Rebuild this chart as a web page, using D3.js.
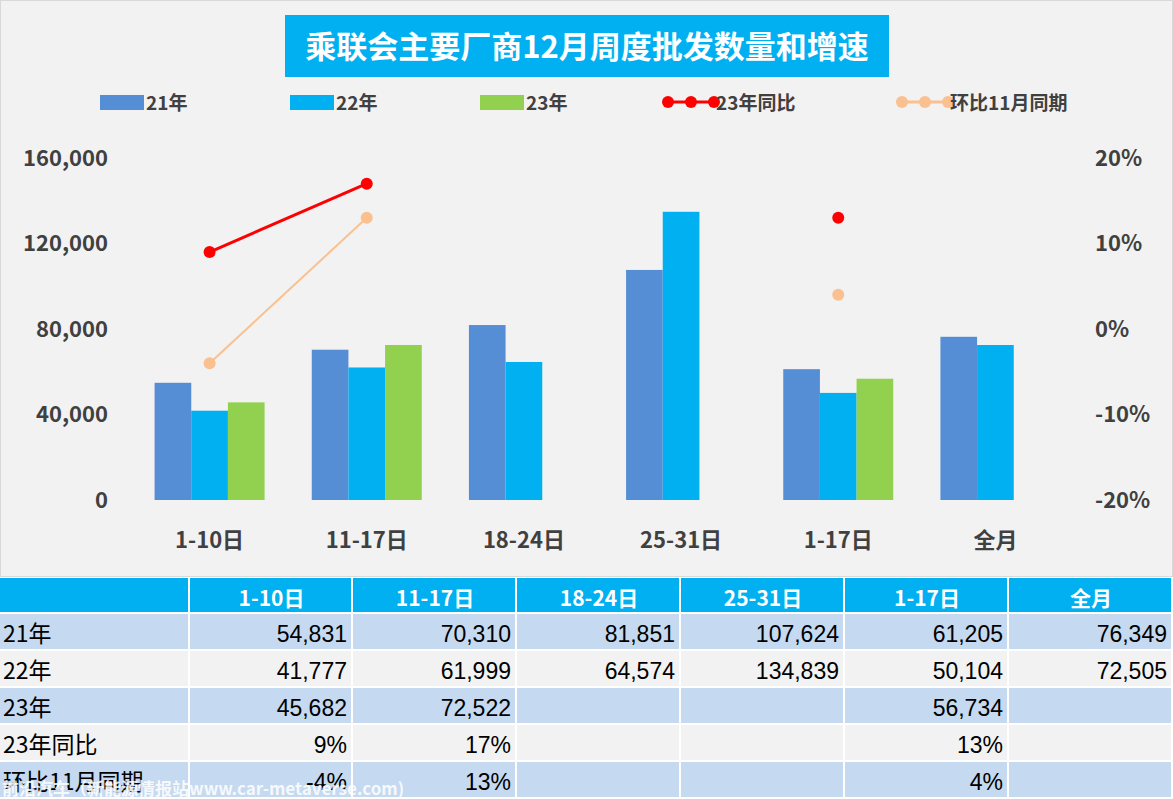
<!DOCTYPE html>
<html><head><meta charset="utf-8">
<script src="https://cdn.jsdelivr.net/npm/d3@7"></script>
<style>body{margin:0;background:#fff}svg{display:block;font-family:"Noto Sans CJK SC",Arial,sans-serif}</style>
</head><body><div id="chart"></div>
<script>
const categories = ['1-10日','11-17日','18-24日','25-31日','1-17日','全月'];
const seriesNames = ['21年','22年','23年'];
const v21 = [54831, 70310, 81851, 107624, 61205, 76349];
const v22 = [41777, 61999, 64574, 134839, 50104, 72505];
const v23 = [45682, 72522, null, null, 56734, null];
const yoy23 = [0.09, 0.17, null, null, 0.13, null];
const mom11 = [-0.04, 0.13, null, null, 0.04, null];
const leftTicks = [0, 40000, 80000, 120000, 160000];
const rightTicks = [-0.2, -0.1, 0, 0.1, 0.2];
const barColors = ['#558ed5', '#00b0f0', '#92d050'];

const W = 1173, H = 799;
const svg = d3.select('#chart').append('svg').attr('width', W).attr('height', H);
svg.append('rect').attr('x', 0.5).attr('y', 0.5).attr('width', W - 1).attr('height', 576)
  .attr('fill', '#f2f2f2').attr('stroke', '#d9d9d9');

// title
svg.append('rect').attr('x', 285).attr('y', 15).attr('width', 604).attr('height', 62).attr('fill', '#00b0f0');
svg.append('text').attr('x', 587).attr('y', 58).attr('text-anchor', 'middle')
  .attr('font-size', 31).attr('font-weight', 700).attr('fill', '#fff').text('乘联会主要厂商12月周度批发数量和增速');

// legend
const lg = svg.append('g').attr('font-size', 19).attr('font-weight', 700).attr('fill', '#404040');
[[100, 0], [290, 1], [480, 2]].forEach(([x, i]) => {
  lg.append('rect').attr('x', x).attr('y', 95).attr('width', 44).attr('height', 15).attr('fill', barColors[i]);
  lg.append('text').attr('x', x + 46).attr('y', 110).text(seriesNames[i]);
});
[[668, '#ff0000', '23年同比'], [902, '#fac090', '环比11月同期']].forEach(([x, c, t]) => {
  lg.append('line').attr('x1', x).attr('x2', x + 46).attr('y1', 102).attr('y2', 102).attr('stroke', c).attr('stroke-width', 3);
  [0, 23, 46].forEach(d => lg.append('circle').attr('cx', x + d).attr('cy', 102).attr('r', 6).attr('fill', c));
  lg.append('text').attr('x', x + 48).attr('y', 110).text(t);
});

const x = d3.scaleBand().domain(categories).range([131, 1074]);
const x1 = d3.scaleBand().domain(seriesNames).range([x.bandwidth() / 2 - 55, x.bandwidth() / 2 + 55]);
const y = d3.scaleLinear().domain([0, 160000]).range([500, 158]);
const yr = d3.scaleLinear().domain([-0.2, 0.2]).range([500, 158]);

const axL = svg.append('g').attr('transform', 'translate(108,0)')
  .call(d3.axisLeft(y).tickValues(leftTicks).tickFormat(d3.format(',')).tickSize(0).tickPadding(0));
const axR = svg.append('g').attr('transform', 'translate(1095,0)')
  .call(d3.axisRight(yr).tickValues(rightTicks).tickFormat(d => d3.format('.0%')(d).replace('−', '-')).tickSize(0).tickPadding(0));
const axB = svg.append('g').attr('transform', 'translate(0,500)')
  .call(d3.axisBottom(x).tickSize(0).tickPadding(32));
[axL, axR, axB].forEach(a => {
  a.select('.domain').remove();
  a.selectAll('text').attr('font-size', 22).attr('font-weight', 700).attr('fill', '#404040')
    .attr('font-family', '"Noto Sans CJK SC",Arial,sans-serif');
});
axL.selectAll('text').attr('text-anchor', 'end');

const series = [v21, v22, v23];
series.forEach((vals, si) => {
  svg.append('g').selectAll('rect').data(categories.map((c, i) => ({ c, v: vals[i] })).filter(d => d.v != null))
    .join('rect')
    .attr('x', d => x(d.c) + x1(seriesNames[si])).attr('width', x1.bandwidth())
    .attr('y', d => y(d.v)).attr('height', d => 500 - y(d.v)).attr('fill', barColors[si]);
});

[[mom11, '#fac090', 2], [yoy23, '#ff0000', 3]].forEach(([vals, c, sw]) => {
  const pts = categories.map((cat, i) => ({ cat, v: vals[i] }));
  const line = d3.line().defined(d => d.v != null).x(d => x(d.cat) + x.bandwidth() / 2).y(d => yr(d.v));
  svg.append('path').datum(pts).attr('d', line).attr('fill', 'none').attr('stroke', c).attr('stroke-width', sw);
  svg.append('g').selectAll('circle').data(pts.filter(d => d.v != null)).join('circle')
    .attr('cx', d => x(d.cat) + x.bandwidth() / 2).attr('cy', d => yr(d.v)).attr('r', 6).attr('fill', c);
});

// table
const fmtN = d3.format(','), fmtP = v => d3.format('.0%')(v).replace('−', '-');
const rows = [
  ['21年', v21.map(v => v == null ? '' : fmtN(v))],
  ['22年', v22.map(v => v == null ? '' : fmtN(v))],
  ['23年', v23.map(v => v == null ? '' : fmtN(v))],
  ['23年同比', yoy23.map(v => v == null ? '' : fmtP(v))],
  ['环比11月同期', mom11.map(v => v == null ? '' : fmtP(v))]
];
const colX = [0, 190, 353, 517, 681, 845, 1009, 1173];
const rowY = [578, 614, 651, 688, 725, 762, 799];
const tb = svg.append('g');
for (let r = 0; r < 6; r++) {
  for (let c = 0; c < 7; c++) {
    const fill = r === 0 ? '#00b0f0' : (r % 2 === 1 ? '#c5d9f1' : '#f2f2f2');
    tb.append('rect').attr('x', colX[c]).attr('y', rowY[r]).attr('width', colX[c + 1] - colX[c] - 2)
      .attr('height', rowY[r + 1] - rowY[r] - 2).attr('fill', fill);
    let t = '', anchor = 'end', tx = colX[c + 1] - 6;
    if (r === 0) { if (c > 0) { t = categories[c - 1]; anchor = 'middle'; tx = (colX[c] + colX[c + 1]) / 2; } }
    else if (c === 0) { t = rows[r - 1][0]; anchor = 'start'; tx = 3; }
    else t = rows[r - 1][1][c - 1];
    tb.append('text').attr('x', tx).attr('y', rowY[r] + 28).attr('text-anchor', anchor)
      .attr('font-size', r === 0 ? 21 : 23).attr('font-weight', r === 0 ? 700 : 400)
      .attr('font-family', r === 0 || c === 0 ? '"Noto Sans CJK SC",Arial,sans-serif' : 'Arial,"Liberation Sans",sans-serif')
      .attr('fill', r === 0 ? '#fff' : '#000').text(t);
  }
}
svg.append('text').attr('x', 2).attr('y', 795).attr('font-size', 17).attr('font-weight', 700)
  .attr('fill', '#fff').attr('opacity', 0.85).text('前沿汽车（新能源情报站www.car-metaverse.com)');
</script></body></html>
